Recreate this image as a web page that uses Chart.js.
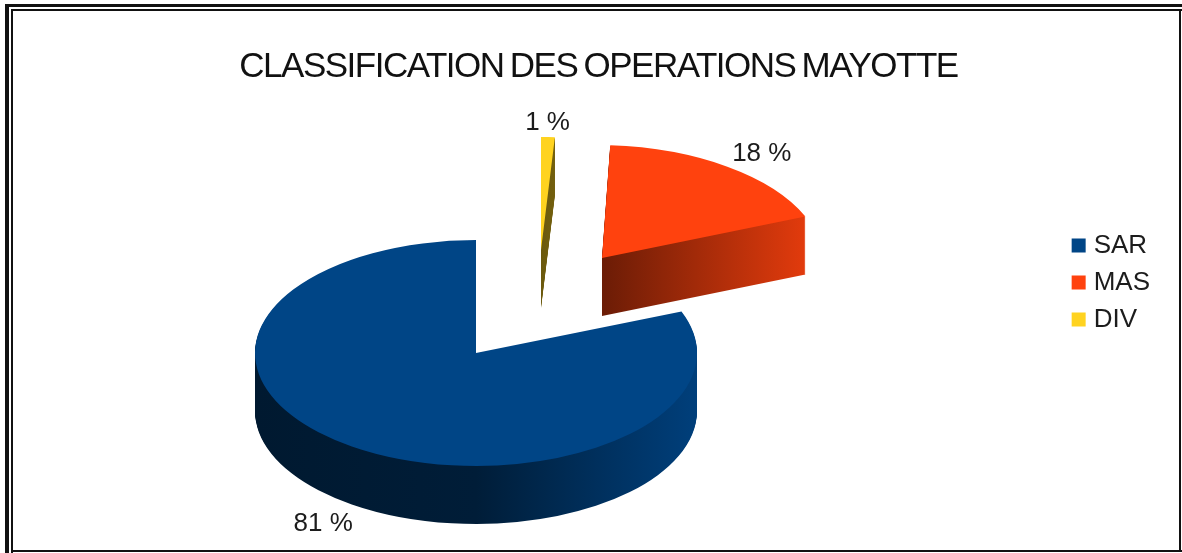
<!DOCTYPE html>
<html lang="fr">
<head>
<meta charset="utf-8">
<title>Classification des operations Mayotte</title>
<script src="https://cdn.jsdelivr.net/npm/chart.js@4/dist/chart.umd.min.js"></script>
<style>
    html, body { margin: 0; padding: 0; background: #fff; }
    #wrap { position: relative; width: 1182px; height: 553px; overflow: hidden; }
    #pieChart { display: block; }
    /* frame: doubled on the top and left, single on the right and bottom */
    .rule { position: absolute; background: #111; }
    #topOuter { left: 5px; right: 0; top: 4px; height: 3px; }
    #topInner { left: 11px; right: 0; top: 9px; height: 2px; }
    #leftOuter { left: 5px; top: 4px; bottom: 0; width: 4px; }
    #leftInner { left: 11px; top: 9px; bottom: 0; width: 2px; }
    #rightLine { right: 1px; top: 10px; bottom: 1px; width: 2px; }
    #bottomLine { left: 11px; right: 0; bottom: 1px; height: 2px; }
</style>
</head>
<body>
<div id="wrap">
    <canvas id="pieChart" width="1182" height="553"></canvas>
    <div class="rule" id="topOuter"></div>
    <div class="rule" id="topInner"></div>
    <div class="rule" id="leftOuter"></div>
    <div class="rule" id="leftInner"></div>
    <div class="rule" id="rightLine"></div>
    <div class="rule" id="bottomLine"></div>
</div>
<script>
const chartTitle = 'CLASSIFICATION DES OPERATIONS MAYOTTE';
const categories = ['SAR', 'MAS', 'DIV'];
const shares = [81, 18, 1];
const sliceColors = ['#004586', '#ff420e', '#ffd320'];

// --- 3D look: flattened disc with a side wall, slices pulled apart ---
const pieLook = {
    centerX: 476,
    centerY: 353,
    radius: 221,
    squash: 0.511,
    depth: 58,
    pull: { SAR: [0, 0], MAS: [126, -95], DIV: [65, -103] },
    lean: { SAR: 0, MAS: 0.05, DIV: 0 },
    labelNudge: { SAR: [0, -2], MAS: [0, 8], DIV: [-2, 12] }
};

function shade(hex, f) {
    const n = parseInt(hex.slice(1), 16);
    const r = Math.round((n >> 16) * f);
    const g = Math.round(((n >> 8) & 255) * f);
    const b = Math.round((n & 255) * f);
    return `rgb(${r},${g},${b})`;
}

const pie3d = {
    id: 'pie3d',
    // the title is set tighter than the font's normal spacing
    afterLayout(chart) {
        const block = chart.titleBlock;
        if (block.tightened) return;
        const drawTitle = block.draw.bind(block);
        block.draw = () => {
            chart.ctx.save();
            chart.ctx.letterSpacing = '-1.5px';
            chart.ctx.wordSpacing = '-2px';
            drawTitle();
            chart.ctx.restore();
        };
        block.tightened = true;
    },
    beforeDatasetsDraw(chart) {
        const ctx = chart.ctx;
        const arcs = chart.getDatasetMeta(0).data;
        const names = chart.data.labels;
        const values = chart.data.datasets[0].data;
        const { centerX, centerY, radius, squash, depth, pull, lean, labelNudge } = pieLook;

        // side walls and top faces, one layer per pixel of depth
        arcs.forEach((arc, i) => {
            const [dx, dy] = pull[names[i]];
            const base = arc.options;
            const color = base.backgroundColor;
            const wall = ctx.createLinearGradient(arc.x - radius, 0, arc.x + radius, 0);
            wall.addColorStop(0, shade(color, 0.36));
            wall.addColorStop(0.5, shade(color, 0.42));
            wall.addColorStop(1, shade(color, 0.92));

            arc.options = { ...base, backgroundColor: wall };
            for (let d = depth; d >= 0; d--) {
                if (d === 0) arc.options = base;
                ctx.save();
                ctx.translate(centerX + dx, centerY + dy + d);
                ctx.transform(1, 0, lean[names[i]], 1, 0, 0);
                ctx.scale(1, squash);
                ctx.translate(-arc.x, -arc.y);
                arc.draw(ctx);
                ctx.restore();
            }
        });

        // value labels sit outside the rim along each slice's middle angle
        ctx.save();
        ctx.font = '26px "Liberation Sans"';
        ctx.fillStyle = '#1c1c1c';
        ctx.textAlign = 'center';
        ctx.textBaseline = 'middle';
        arcs.forEach((arc, i) => {
            const mid = (arc.startAngle + arc.endAngle) / 2;
            const [dx, dy] = pull[names[i]];
            const [nx, ny] = labelNudge[names[i]];
            const r = radius * 1.23;
            const below = Math.sin(mid) > 0 ? depth : 0;
            const x = centerX + dx + Math.cos(mid) * r + nx;
            const y = centerY + dy + Math.sin(mid) * r * squash + below + ny;
            ctx.fillText(values[i] + ' %', x, y);
        });
        ctx.restore();

        return false;
    }
};

// Chart.js runs slices clockwise, so feed them reversed to get them counter-clockwise
new Chart(document.getElementById('pieChart'), {
    type: 'pie',
    plugins: [pie3d],
    data: {
        labels: categories.slice().reverse(),
        datasets: [{
            data: shares.slice().reverse(),
            backgroundColor: sliceColors.slice().reverse(),
            borderWidth: 0,
            radius: pieLook.radius
        }]
    },
    options: {
        responsive: false,
        animation: false,
        layout: { padding: { left: 37, right: 22, top: 12, bottom: 0 } },
        plugins: {
            title: {
                display: true,
                text: chartTitle,
                color: '#111',
                font: { family: '"Liberation Sans"', size: 35, weight: 'normal' },
                padding: { top: 34, bottom: 10 }
            },
            tooltip: { enabled: false },
            legend: {
                position: 'right',
                reverse: true,
                labels: {
                    color: '#1c1c1c',
                    font: { family: '"Liberation Sans"', size: 26 },
                    boxWidth: 4,
                    boxHeight: 4,
                    padding: 11,
                    // thick outline makes a 14px swatch while keeping the text close
                    generateLabels(chart) {
                        return Chart.controllers.pie.overrides.plugins.legend.labels.generateLabels(chart)
                            .map(item => ({ ...item, strokeStyle: item.fillStyle, lineWidth: 10 }));
                    }
                }
            }
        }
    }
});
</script>
</body>
</html>
